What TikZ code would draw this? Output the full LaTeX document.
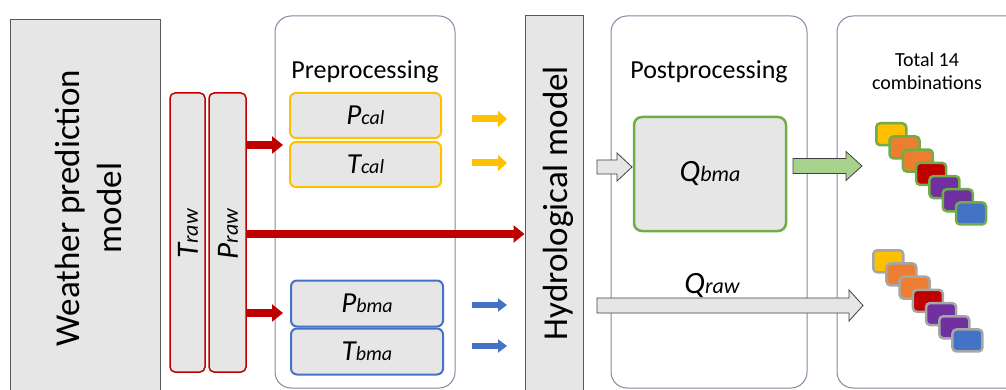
\documentclass[tikz,border=0pt]{standalone}
\usepackage{fontspec}
\setmainfont{Carlito}
\usetikzlibrary{arrows.meta,calc}
\definecolor{gfill}{HTML}{E7E6E6}
\definecolor{darkline}{HTML}{595959}
\definecolor{outerline}{HTML}{7F8A9E}
\definecolor{myred}{HTML}{C00000}
\definecolor{myyellow}{HTML}{FFC000}
\definecolor{myorange}{HTML}{ED7D31}
\definecolor{mypurple}{HTML}{7030A0}
\definecolor{myblue}{HTML}{4472C4}
\definecolor{mygreen}{HTML}{70AD47}
\definecolor{lightgreen}{HTML}{A9D18E}
\definecolor{stackgray}{HTML}{A6A6A6}
\newcommand\varsym[3]{{\fontsize{#1}{#1}\selectfont\itshape #2}{\fontsize{\numexpr #1*7/10\relax}{#1}\selectfont\itshape #3}}
\newcommand\blockarrow[7]{\draw[#1] (#2,#4-#5) -- (#3-#7,#4-#5) -- (#3-#7,#4-#6) -- (#3,#4) -- (#3-#7,#4+#6) -- (#3-#7,#4+#5) -- (#2,#4+#5) -- cycle;}
\tikzset{
  outerbox/.style={draw=outerline, line width=1pt, rounded corners=16pt, minimum width=#1, inner sep=0pt},
  modelbox/.style={draw=darkline, line width=1pt, fill=gfill, inner sep=0pt},
  rawbox/.style={draw=myred, line width=1.5pt, fill=gfill, rounded corners=5pt, inner sep=0pt, minimum width=#1, minimum height=279pt},
  calbox/.style={draw=myyellow, line width=2pt, fill=gfill, rounded corners=6pt, inner sep=0pt, minimum width=151pt, minimum height=45pt},
  bmabox/.style={draw=myblue, line width=2pt, fill=gfill, rounded corners=6pt, inner sep=0pt, minimum width=152pt, minimum height=46pt},
  redarrow/.style={draw=myred, line width=8pt, -{Triangle[length=11pt,width=17pt]}},
  yelarrow/.style={draw=myyellow, line width=7pt, -{Triangle[length=9pt,width=16pt]}},
  bluarrow/.style={draw=myblue, line width=6pt, -{Triangle[length=9pt,width=13pt]}},
  graybarrow/.style={draw=black!75, line width=0.8pt, fill=gfill},
  greenbarrow/.style={draw=black!75, line width=0.8pt, fill=lightgreen},
  stk/.style={draw=#1, line width=2.5pt, rounded corners=4pt, minimum width=30pt, minimum height=22pt, inner sep=0pt, anchor=north west},
}
\begin{document}
\begin{tikzpicture}[x=1pt,y=-1pt]
\useasboundingbox (0,0) rectangle (1006,390);
\begin{scope}
\clip (0,0) rectangle (1006,390);
% weather prediction model
\node[modelbox, minimum width=150pt, minimum height=390pt] (weather) at (85,215) {};
\node[rotate=90, align=center, font=\fontsize{35}{42}\selectfont] (wtext) at (88,208) {Weather prediction\\model};
% raw boxes
\node[rawbox=35pt] (Traw) at (187.5,232.5) {};
\node[rotate=90] (Trawt) at (188,234) {\varsym{31}{T}{raw}};
\node[rawbox=37pt] (Praw) at (227.5,232.5) {};
\node[rotate=90] (Prawt) at (228,234) {\varsym{31}{P}{raw}};
% preprocessing
\node[outerbox=180pt, minimum height=372pt] (pre) at (365,202) {};
\node[font=\fontsize{26}{26}\selectfont] (pretext) at (365,72) {Preprocessing};
\node[calbox] (Pcal) at (365.5,115.5) {\varsym{29}{P}{cal}};
\node[calbox] (Tcal) at (365.5,164.5) {\varsym{29}{T}{cal}};
\node[bmabox] (Pbma) at (367,303.5) {\varsym{29}{P}{bma}};
\node[bmabox] (Tbma) at (367,351.5) {\varsym{29}{T}{bma}};
% hydrological model
\node[modelbox, minimum width=58pt, minimum height=390pt] (hydro) at (554,211) {};
\node[rotate=90, font=\fontsize{35}{35}\selectfont] (htext) at (558,203) {Hydrological model};
% postprocessing
\node[outerbox=196pt, minimum height=372pt] (post) at (709,202) {};
\node[font=\fontsize{26}{26}\selectfont] (posttext) at (709,72) {Postprocessing};
\node[draw=mygreen, line width=2.5pt, fill=gfill, rounded corners=8pt, minimum width=152pt, minimum height=114pt, inner sep=0pt] (Qbma) at (710,174) {\varsym{31}{Q}{bma}};
\node (Qrawt) at (712,285) {\varsym{31}{Q}{raw}};
% combinations box
\node[outerbox=200pt, minimum height=372pt] (comb) at (937,202) {};
\node[align=center, font=\fontsize{20}{23}\selectfont] (combtext) at (927,71) {Total 14\\combinations};
% red arrows
\coordinate (r1) at (Praw.east |- 0,145);
\coordinate (r2) at (Praw.east |- 0,234);
\coordinate (r3) at (Praw.east |- 0,313);
\draw[redarrow] (r1) -- (283,145);
\draw[redarrow] (r2) -- (hydro.west |- r2);
\draw[redarrow] (r3) -- (283,313);
% yellow and blue arrows
\coordinate (y1) at (472,119); \coordinate (y1e) at (507,119);
\coordinate (y2) at (472,163); \coordinate (y2e) at (507,163);
\coordinate (b1) at (472,305); \coordinate (b1e) at (507,305);
\coordinate (b2) at (472,346); \coordinate (b2e) at (507,346);
\draw[yelarrow] (y1) -- (y1e);
\draw[yelarrow] (y2) -- (y2e);
\draw[bluarrow] (b1) -- (b1e);
\draw[bluarrow] (b2) -- (b2e);
% block arrows
\blockarrow{graybarrow}{597}{632}{167}{7}{14}{15}
\blockarrow{greenbarrow}{793}{862}{166}{7.5}{14.5}{16}
\blockarrow{graybarrow}{597}{863}{305.5}{7.5}{15.5}{14}
% stacks
\foreach \c [count=\i from 0] in {myyellow,myorange,myorange,myred,mypurple,mypurple,myblue}{
  \node[stk=mygreen, fill=\c] (s\i) at (875+13.3*\i,122+13.2*\i) {};
}
\foreach \c [count=\i from 0] in {myyellow,myorange,myorange,myred,mypurple,mypurple,myblue}{
  \node[stk=stackgray, fill=\c] (g\i) at (872+13.2*\i,249+13.2*\i) {};
}
\end{scope}
\end{tikzpicture}
\end{document}
